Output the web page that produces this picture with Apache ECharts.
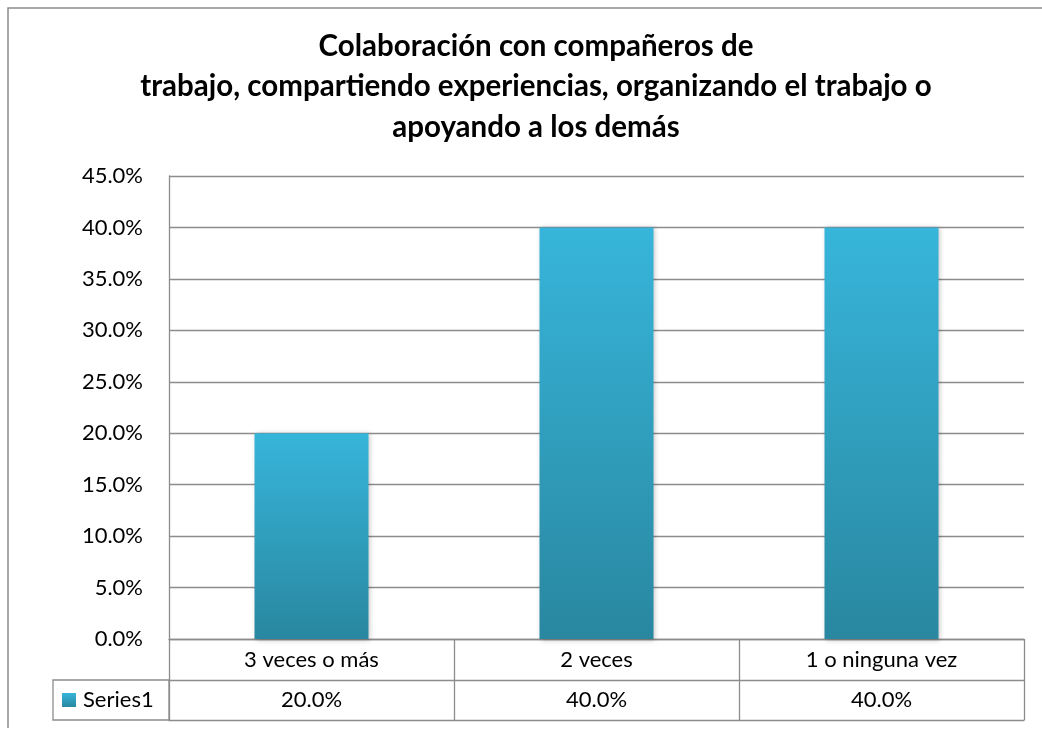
<!DOCTYPE html>
<html>
<head>
<meta charset="utf-8">
<style>
  html, body { margin: 0; padding: 0; background: #fff; }
  #chart { width: 1042px; height: 731px; }
</style>
<script src="https://cdn.jsdelivr.net/npm/echarts@6/dist/echarts.min.js"></script>
</head>
<body>
<div id="chart"></div>
<script>
// chart data
const titleLines = [
  'Colaboración con compañeros de',
  'trabajo, compartiendo experiencias, organizando el trabajo o',
  'apoyando a los demás'
]
const categories = ['3 veces o más', '2 veces', '1 o ninguna vez']
const seriesName = 'Series1'
const values = [20, 40, 40]
const yTicks = { min: 0, max: 45, interval: 5 }

const FONT = 'Lato, "Open Sans", sans-serif'
const GRAY = '#8c8c8c'
const fmt = v => v.toFixed(1) + '%'

const barColor = new echarts.graphic.LinearGradient(0, 0, 0, 1, [
  { offset: 0, color: '#37b5da' },
  { offset: 1, color: '#2987a0' }
])

const chart = echarts.init(document.getElementById('chart'))

chart.setOption({
  animation: false,
  textStyle: { fontFamily: FONT },
  title: {
    text: titleLines.join('\n'),
    left: 536,
    textAlign: 'center',
    top: 26,
    padding: 0,
    textStyle: {
      fontFamily: FONT,
      fontWeight: 'bold',
      fontSize: 29.5,
      lineHeight: 40.5,
      color: '#000'
    }
  },
  legend: {
    data: [seriesName],
    left: 62,
    top: 689,
    padding: 0,
    icon: 'rect',
    itemWidth: 14,
    itemHeight: 14,
    textStyle: { fontFamily: FONT, fontSize: 22, lineHeight: 22, color: '#000', padding: [0, 0, 0, 2] }
  },
  grid: { left: 169, right: 18, top: 176, bottom: 92 },
  xAxis: [
    {
      type: 'category',
      position: 'bottom',
      data: categories,
      axisLine: { show: true, lineStyle: { color: GRAY, width: 1.3 } },
      axisTick: { show: true, length: 41, lineStyle: { color: GRAY, width: 1.3 } },
      axisLabel: { margin: 9, fontSize: 22, lineHeight: 24, color: '#000', fontFamily: FONT }
    },
    {
      type: 'category',
      position: 'bottom',
      offset: 41,
      data: values.map(fmt),
      axisLine: { show: true, lineStyle: { color: GRAY, width: 1.3 } },
      axisTick: { show: true, length: 40, lineStyle: { color: GRAY, width: 1.3 } },
      axisLabel: { margin: 8, fontSize: 22, lineHeight: 24, color: '#000', fontFamily: FONT }
    },
    {
      type: 'category',
      position: 'bottom',
      offset: 81,
      data: categories,
      axisLine: { show: true, lineStyle: { color: GRAY, width: 1.3 } },
      axisTick: { show: false },
      axisLabel: { show: false }
    }
  ],
  yAxis: {
    type: 'value',
    min: yTicks.min,
    max: yTicks.max,
    interval: yTicks.interval,
    axisLine: { show: true, lineStyle: { color: GRAY, width: 1.3 } },
    axisTick: { show: false },
    axisLabel: { margin: 26, fontSize: 22, color: '#000', fontFamily: FONT, formatter: fmt },
    splitLine: { lineStyle: { color: GRAY, width: 1.3 } }
  },
  series: [{
    name: seriesName,
    type: 'bar',
    xAxisIndex: 0,
    data: values,
    barWidth: '40%',
    itemStyle: {
      color: barColor,
      shadowColor: 'rgba(0,0,0,0.25)',
      shadowBlur: 5,
      shadowOffsetX: 1,
      shadowOffsetY: 1
    }
  }],
  graphic: [
    {
      // outer chart frame (left and top edges visible)
      type: 'polyline',
      shape: { points: [[8, 728], [8, 8], [1042, 8]] },
      style: { stroke: GRAY, lineWidth: 1.5, fill: null },
      silent: true
    },
    {
      // legend key cell of the data table
      type: 'rect',
      shape: { x: 53, y: 680, width: 116, height: 40 },
      style: { stroke: GRAY, lineWidth: 1.3, fill: null },
      silent: true
    }
  ]
})
</script>
</body>
</html>
